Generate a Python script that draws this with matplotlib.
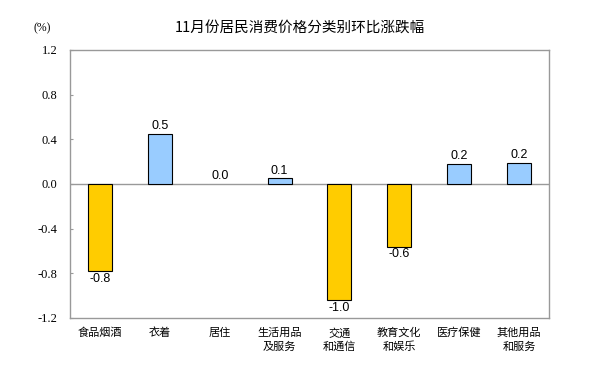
import matplotlib.pyplot as plt

# data
categories = ['食品烟酒', '衣着', '居住', '生活用品\n及服务', '交通\n和通信',
              '教育文化\n和娱乐', '医疗保健', '其他用品\n和服务']
values = [-0.78, 0.45, 0.0, 0.05, -1.04, -0.56, 0.18, 0.19]
value_labels = ['-0.8', '0.5', '0.0', '0.1', '-1.0', '-0.6', '0.2', '0.2']
yticks = [-1.2, -0.8, -0.4, 0.0, 0.4, 0.8, 1.2]

cjk = ['Noto Sans CJK SC', 'DejaVu Sans']

fig = plt.figure(figsize=(6.09, 3.73), dpi=100)
ax = fig.add_axes([70 / 609, 1 - 318 / 373, 479 / 609, 268 / 373])

colors = ['#FFCC00' if v < 0 else '#99CCFF' for v in values]
edges = [0.8 if v != 0 else 0 for v in values]
x = list(range(len(categories)))
ax.bar(x, values, width=0.4, color=colors, edgecolor='black', linewidth=edges, zorder=3)

# zero line
ax.axhline(0, color='#999999', linewidth=1, zorder=2)

# value labels
for i, (v, lab) in enumerate(zip(values, value_labels)):
    if v < 0:
        ax.text(i, v - 0.015, lab, ha='center', va='top', fontsize=9,
                family='Liberation Sans')
    else:
        ax.text(i, v + 0.015, lab, ha='center', va='bottom', fontsize=9,
                family='Liberation Sans')

ax.set_xlim(-0.5, len(categories) - 0.5)
ax.set_ylim(-1.2, 1.2)
ax.set_yticks(yticks)
ax.set_yticklabels(['%.1f' % t for t in yticks], family='Liberation Serif', fontsize=9)
ax.tick_params(axis='y', direction='in', length=2, color='#999999', pad=9)
ax.set_xticks(x)
ax.set_xticklabels(categories, family=cjk, fontsize=8, linespacing=1.4)
ax.tick_params(axis='x', length=0, pad=7)
for s in ax.spines.values():
    s.set_color('#999999')
    s.set_linewidth(1)

fig.text(300 / 609, 1 - 28 / 373, '11月份居民消费价格分类别环比涨跌幅', ha='center', va='center',
         family=cjk, fontsize=10.5, weight='medium')
fig.text(42 / 609, 1 - 28 / 373, '(%)', ha='center', va='center',
         family='Liberation Serif', fontsize=8.5)

fig.savefig('out.png', dpi=100)
